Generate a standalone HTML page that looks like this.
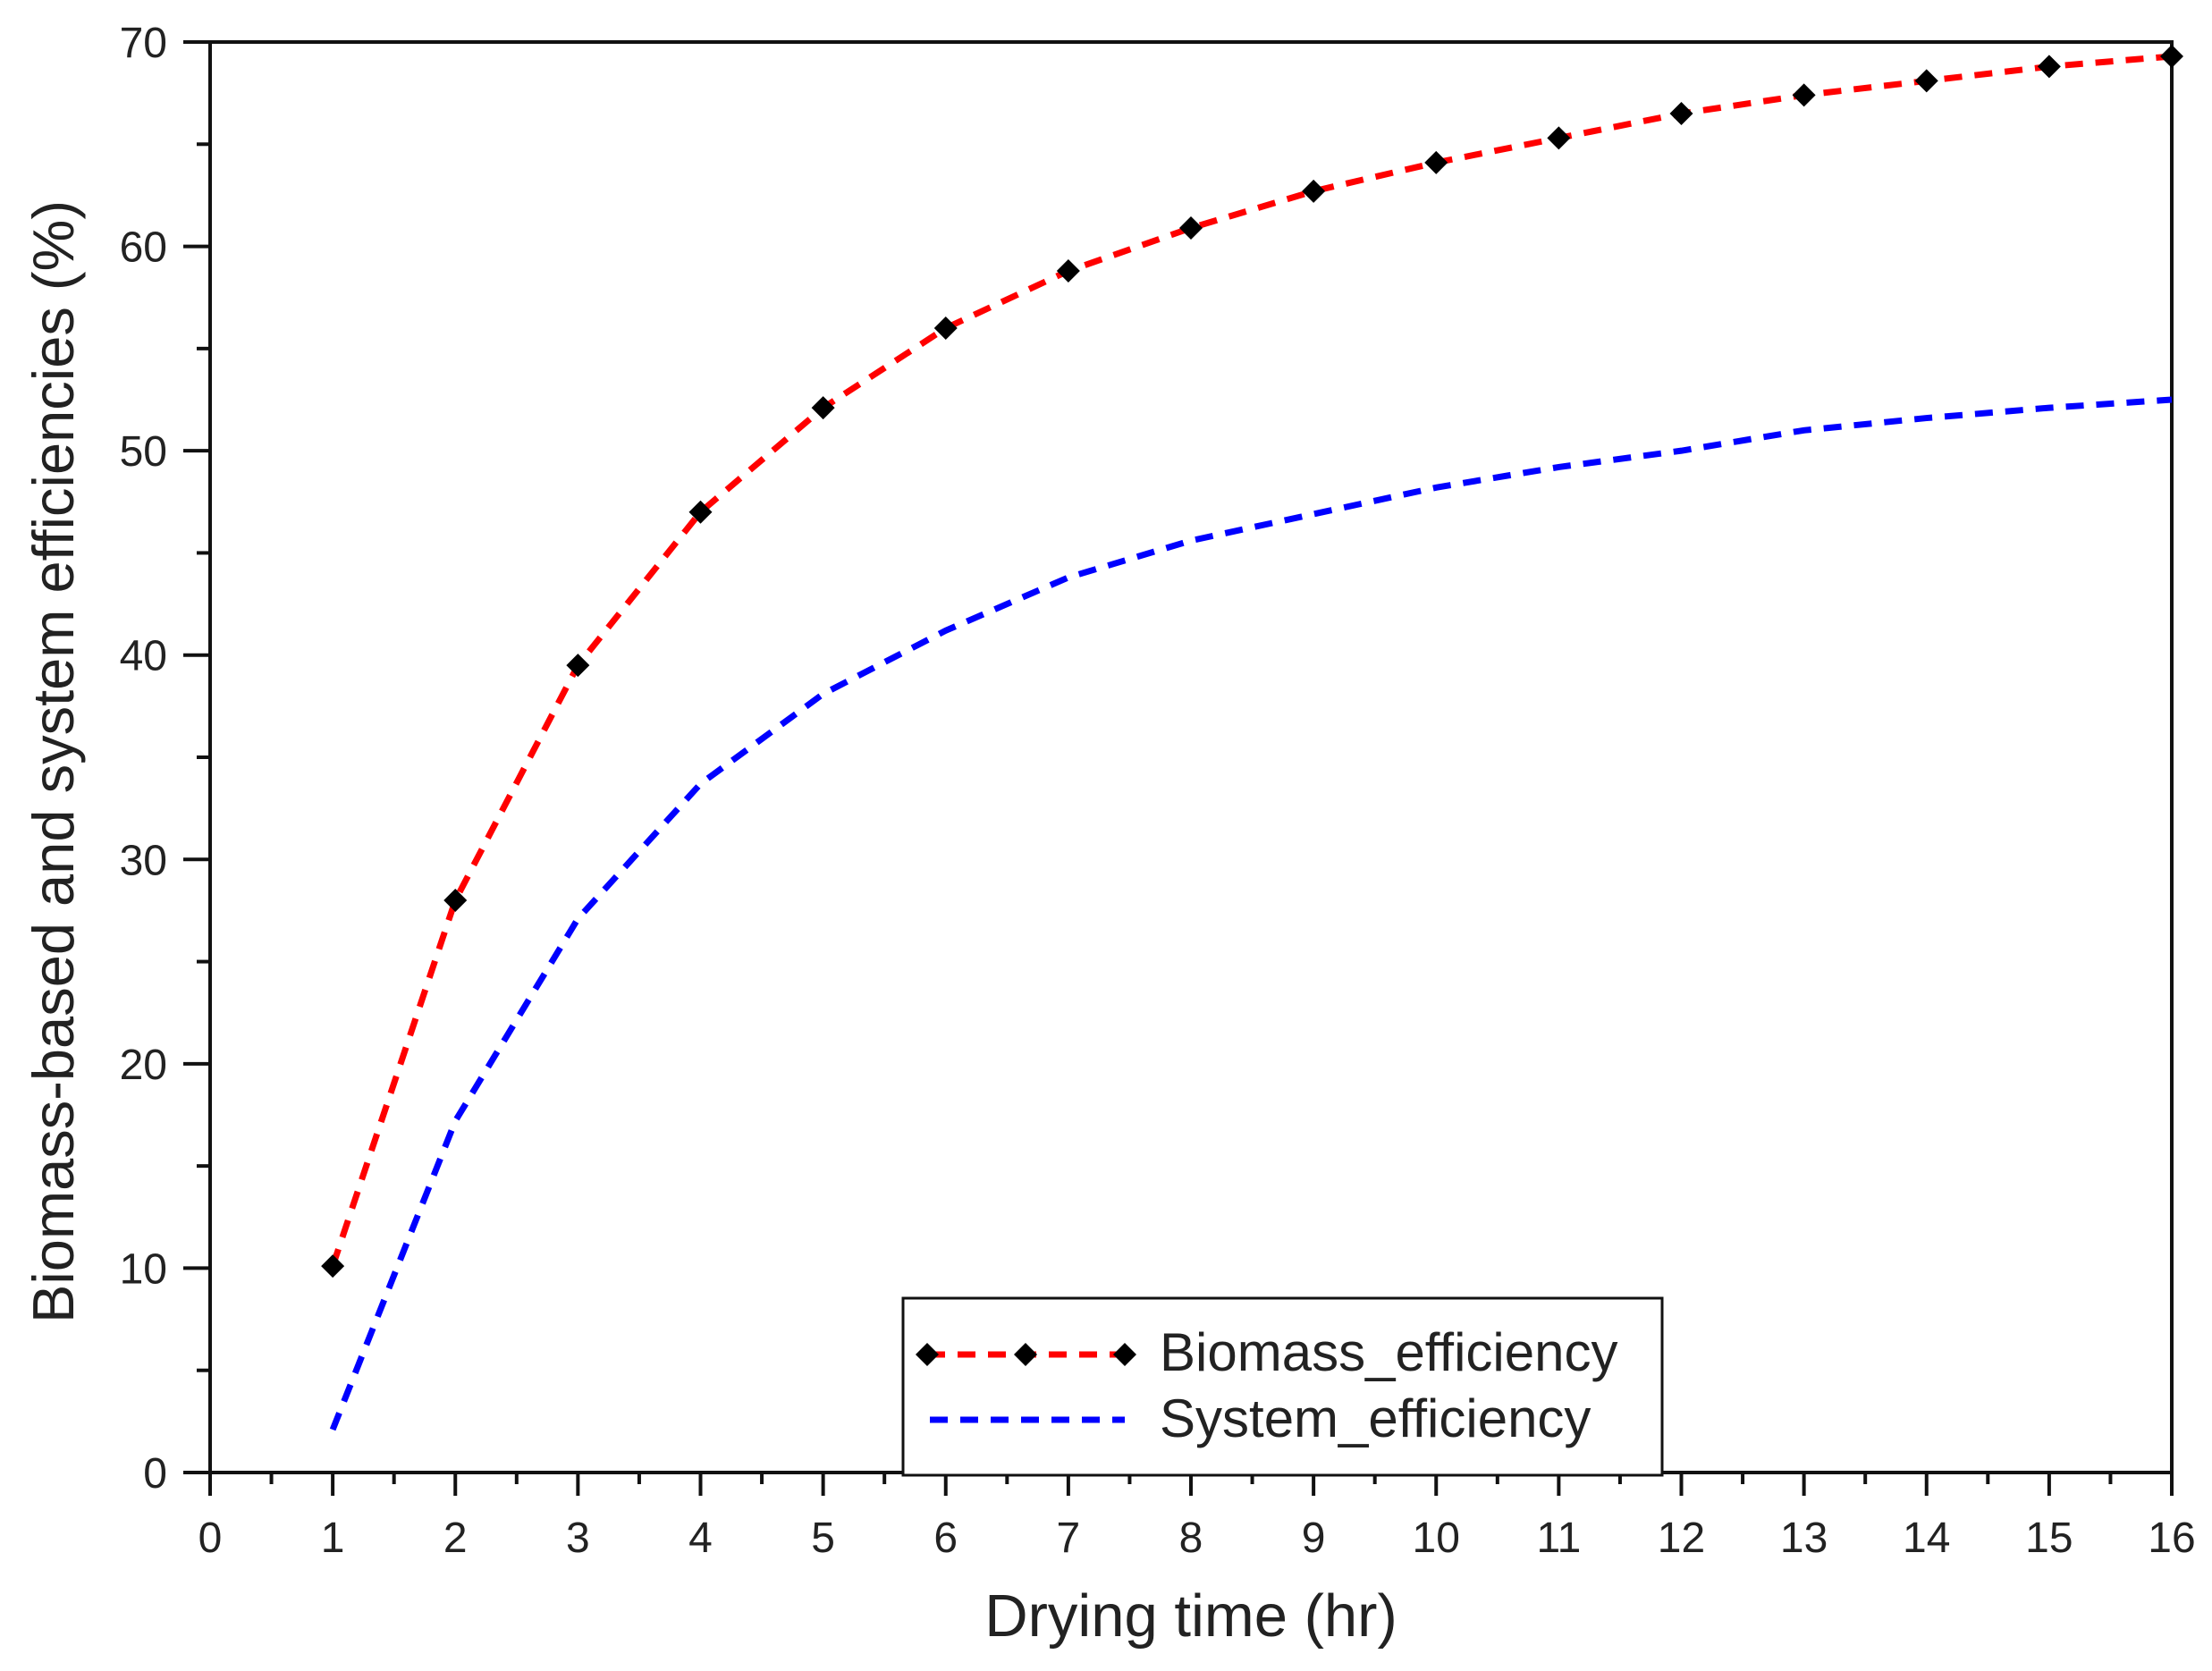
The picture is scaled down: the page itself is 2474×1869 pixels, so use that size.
<!DOCTYPE html>
<html><head><meta charset="utf-8"><style>
html,body{margin:0;padding:0;background:#fff;}
svg{display:block;font-family:"Liberation Sans",sans-serif;}
</style></head><body>
<svg id="chart" width="2474" height="1869" viewBox="0 0 2474 1869">
<rect width="2474" height="1869" fill="#fff"/>
<g id="axes"></g>
<g id="series"></g>
<g id="legend"></g>
</svg>
<script>
const hours = [1,2,3,4,5,6,7,8,9,10,11,12,13,14,15,16];
const biomassEff = [10.1,28.0,39.5,47.0,52.1,56.0,58.8,60.9,62.7,64.1,65.3,66.5,67.4,68.1,68.8,69.3];
const systemEff = [2.1,17.2,27.1,33.7,38.1,41.2,43.8,45.6,46.9,48.2,49.2,50.0,51.0,51.6,52.1,52.5];
const xTicks = [0,1,2,3,4,5,6,7,8,9,10,11,12,13,14,15,16];
const yTicks = [0,10,20,30,40,50,60,70];

const NS='http://www.w3.org/2000/svg';
const L=235,R=2429,T=47,B=1647;
const xMin=0,xMax=16,yMin=0,yMax=70;
function X(v){return L+(v-xMin)/(xMax-xMin)*(R-L);}
function Y(v){return B-(v-yMin)/(yMax-yMin)*(B-T);}
function mk(tag,attrs,parent){const e=document.createElementNS(NS,tag);for(const k in attrs)e.setAttribute(k,attrs[k]);parent.appendChild(e);return e;}
const axes=document.getElementById('axes'),series=document.getElementById('series'),legend=document.getElementById('legend');

let e=mk('rect',{x:L,y:T,width:R-L,height:B-T,fill:'none',stroke:'#111','stroke-width':4},axes);



xTicks.forEach(v=>{
  let t=mk('line',{x1:X(v),x2:X(v),y1:B,y2:B+26,stroke:'#111','stroke-width':4},axes);
  
  
  let lb=mk('text',{x:X(v),y:1736,'text-anchor':'middle','font-size':48,fill:'#222'},axes);
  lb.textContent=v;
  
  
  if(v<xMax){
    let m=mk('line',{x1:X(v+0.5),x2:X(v+0.5),y1:B,y2:B+13,stroke:'#111','stroke-width':4},axes);
    
    
  }
});
yTicks.forEach(v=>{
  let t=mk('line',{x1:L-30,x2:L,y1:Y(v),y2:Y(v),stroke:'#111','stroke-width':4},axes);
  
  
  let lb=mk('text',{x:L-48,y:Y(v)+17,'text-anchor':'end','font-size':48,fill:'#222'},axes);
  lb.textContent=v;
  
  
  if(v<yMax){
    let m=mk('line',{x1:L-15,x2:L,y1:Y(v+5),y2:Y(v+5),stroke:'#111','stroke-width':4},axes);
    
    
  }
});
let xt=mk('text',{x:1332,y:1830,'text-anchor':'middle','font-size':67,fill:'#222'},axes);
xt.textContent='Drying time (hr)';


let yt=mk('text',{x:0,y:0,'text-anchor':'middle','font-size':65,fill:'#222',transform:'translate(82,852) rotate(-90)'},axes);
yt.textContent='Biomass-based and system efficiencies (%)';



function pts(ys){return hours.map((h,i)=>X(h)+','+Y(ys[i])).join(' ');}
let sl=mk('polyline',{points:pts(systemEff),fill:'none',stroke:'#0000ff','stroke-width':7,'stroke-dasharray':'20 14'},series);


let bl=mk('polyline',{points:pts(biomassEff),fill:'none',stroke:'#ff0000','stroke-width':7,'stroke-dasharray':'20 14'},series);


function diamond(cx,cy,p){const r=13;return mk('polygon',{points:`${cx},${cy-r} ${cx+r},${cy} ${cx},${cy+r} ${cx-r},${cy}`,fill:'#000'},p);}
hours.forEach((h,i)=>{
  let d=diamond(X(h),Y(biomassEff[i]),series);
  
  
});

let lbx=mk('rect',{x:1010,y:1452,width:849,height:198,fill:'#fff',stroke:'#111','stroke-width':3},legend);


let l1=mk('line',{x1:1037,x2:1258,y1:1515,y2:1515,stroke:'#ff0000','stroke-width':7,'stroke-dasharray':'20 14'},legend);


[1037,1147,1258].forEach(x=>{let d=diamond(x,1515,legend);
  
  });
let t1=mk('text',{x:1297,y:1533,'font-size':60,fill:'#222'},legend);
t1.textContent='Biomass_efficiency';


let l2=mk('line',{x1:1040,x2:1258,y1:1588,y2:1588,stroke:'#0000ff','stroke-width':7,'stroke-dasharray':'20 14'},legend);


let t2=mk('text',{x:1297,y:1607,'font-size':60,fill:'#222'},legend);
t2.textContent='System_efficiency';


</script>
</body></html>
